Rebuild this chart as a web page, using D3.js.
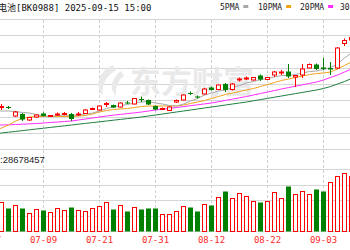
<!DOCTYPE html>
<html>
<head>
<meta charset="utf-8">
<script src="https://cdn.jsdelivr.net/npm/d3@7"></script>
<style>
body { margin: 0; background: #fff; overflow: hidden; }
svg { display: block; }
</style>
</head>
<body>
<svg id="chart" width="350" height="250"></svg>
<script>
// trading days shown (first two are just off the left edge)
const dates = ["06-27","06-30","07-01","07-02","07-03","07-04","07-07","07-08","07-09","07-10","07-11","07-14","07-15","07-16","07-17","07-18","07-21","07-22","07-23","07-24","07-25","07-28","07-29","07-30","07-31","08-01","08-04","08-05","08-06","08-07","08-08","08-11","08-12","08-13","08-14","08-15","08-18","08-19","08-20","08-21","08-22","08-25","08-26","08-27","08-28","08-29","09-01","09-02","09-03","09-04","09-05","09-08","09-09"];
const tickDates = ["06-27","07-09","07-21","07-31","08-12","08-22","09-03"];

const open  = [1094,1095,1092.5,1093,1084,1086,1080,1083,1086.5,1083.5,1085,1085.5,1086,1085,1086.5,1090.5,1090,1095.5,1095,1093,1097.5,1096,1101,1100,1094,1090.5,1089.5,1098,1100,1107,1103.5,1106,1112.5,1110.5,1116,1110.5,1120,1121,1120,1124.5,1120.5,1125,1127,1128.5,1123,1125,1132,1135.5,1132.5,1132,1132,1156.5,1160];
const high  = [1096,1097,1096,1094,1089,1087,1083,1085.5,1087.5,1085,1087.5,1088,1087,1088,1091,1092.5,1094.5,1098,1095.5,1097.5,1099,1102,1103.5,1100.5,1094.5,1092.5,1093.5,1100.5,1105.5,1108.5,1104.5,1112,1113.5,1115.5,1117,1117,1122.5,1123.5,1123,1125.5,1123,1129,1130,1136,1125,1136,1136.5,1136.5,1142,1138,1153,1161.5,1164];
const low   = [1092,1091,1090,1091,1083,1079,1079,1082,1083.5,1083,1084,1084.5,1079,1084,1086,1090,1089.5,1093,1092,1092.5,1096,1095.5,1098,1095,1090,1090,1089,1097,1099.5,1105,1101.5,1105.5,1109.5,1110,1108,1109.5,1118.5,1120,1119.5,1119,1120,1123,1125,1122,1113,1122,1131.5,1130,1130,1125,1131,1154,1158];
const close = [1095,1093,1093.5,1092.5,1088,1080.5,1082.5,1085,1084,1084.5,1086,1086.5,1081,1086,1090,1091.5,1094,1096.5,1092.5,1097,1097,1101.5,1100.5,1095.5,1090.5,1091.5,1093,1099.5,1105,1106.5,1103,1111,1110,1115,1110,1116,1121,1122,1122.5,1120.5,1122.5,1128,1128,1123.5,1124.5,1131,1135.5,1131,1131,1130.5,1152,1159.5,1162.5];
// volume, millions
const volume = [13,14,14.7,11.4,12.9,11.4,9.2,10.9,10.5,9.7,11.4,10.5,11.9,10.5,10,11.4,12.5,14.5,10.9,12.8,10.2,11.9,10.9,11.4,11.4,8.4,8.4,10,12.3,11.8,10,13.7,13.2,17.2,20,16.4,18.9,17.5,15.2,14.5,14.9,19.4,16.4,22.7,18.5,20.2,18.5,20.9,20,24.4,27.7,28.9,27.5];
const volRiseDays = ["09-04"]; // days whose volume bar is drawn red though the candle fell

const ma5  = [1089,1089,1089,1089,1088.5,1087.5,1087,1085.5,1084,1083.5,1084.5,1085,1084.5,1085,1086,1087,1089,1091.5,1093,1094.5,1095.5,1097,1098,1098.5,1097,1096,1094.5,1094,1096,1099,1101.5,1105,1107,1109,1110,1112.5,1114.5,1117,1118.5,1120.5,1121.5,1123,1124.5,1124.5,1125.5,1127,1128.5,1129,1130.5,1132.5,1136,1142,1147];
const ma10 = [1066,1069,1072,1075,1079,1081.5,1083,1083.5,1083.5,1083.5,1083.5,1083.5,1083.5,1084,1084.5,1086,1088,1089.5,1090.5,1091,1091.5,1092.5,1093.5,1094,1094,1094,1094,1094,1095,1096.5,1098,1099.5,1101.5,1103.5,1105.5,1107,1108.5,1110,1111.5,1113.5,1115.5,1117.5,1119.5,1121,1122.5,1124,1125.5,1126.5,1127,1128,1131,1134.5,1138];
const ma20 = [1074.5,1074.8,1075,1075.2,1075.5,1075.8,1076.2,1076.5,1077,1077.5,1078,1078.5,1079,1080,1081,1082,1083,1084,1084.8,1085.6,1086.4,1087.2,1088,1089,1090,1090.8,1091.6,1092.5,1093.4,1094.3,1095.2,1096.1,1097,1098.3,1099.6,1100.9,1102.2,1103.5,1105,1106.5,1108,1109.5,1111,1112.4,1113.8,1115.2,1116.6,1118,1120,1122.5,1125,1128,1131];
const ma30 = [1065.5,1066.2,1067,1067.8,1068.6,1069.4,1070.2,1071,1071.8,1072.6,1073.4,1074.2,1075,1075.8,1076.6,1077.4,1078.2,1079,1079.8,1080.6,1081.4,1082.2,1083,1084,1085,1086,1087,1088,1089,1090,1091,1092,1093,1094,1095,1096,1097,1098,1099.2,1100.4,1101.6,1102.8,1104,1105.2,1106.4,1107.6,1108.8,1110,1111.5,1113.5,1116,1118.5,1121.5];

const maLabels = ["5PMA", "10PMA", "20PMA", "30PMA"];
const title = "电池[BK0988] 2025-09-15 15:00";
const volText = ":28678457";

const svg = d3.select("#chart");
const mono = "'DejaVu Sans Mono', 'Noto Sans CJK SC', monospace";
const colUp = "#ff0000", colDown = "#008000";
const maColors = ["#a8a8a8", "#f2a31a", "#ff2cff", "#1f7f3f"];

const mainTop = 19, mainBot = 149, volTop = 169, volBot = 231;

const x = d3.scaleBand().domain(dates).range([-16.5, -16.5 + 7 * dates.length]);
const cx = d => Math.round(x(d) + x.bandwidth() / 2);
const y = d3.scaleLinear().domain([1051, 1181]).range([mainBot, mainTop]);
const yv = d3.scaleLinear().domain([0, 31]).range([volBot, volTop]);

const rows = dates.map((d, i) => ({
  date: d, o: open[i], h: high[i], l: low[i], c: close[i], v: volume[i],
  up: close[i] >= open[i]
}));

// header
svg.append("text").attr("x", -2).attr("y", 11)
  .style("font", "9px " + mono).attr("fill", "#111").text(title);

const legX = [220, 258, 300, 340];
maLabels.forEach((lab, k) => {
  const t = svg.append("text").attr("x", legX[k]).attr("y", 10)
    .style("font", "8px " + mono).attr("fill", "#222").text(lab);
  const w = t.node().getComputedTextLength();
  svg.append("rect").attr("x", legX[k] + w + 4).attr("y", 5).attr("width", 5).attr("height", 3)
    .attr("fill", maColors[k]);
});

// grid
const grid = svg.append("g").attr("stroke", "#d6d6d6").attr("stroke-width", 1);
d3.range(9).forEach(k => {
  const yy = Math.round(mainTop + k * (mainBot - mainTop) / 8) + 0.5;
  grid.append("line").attr("x1", 0).attr("x2", 350).attr("y1", yy).attr("y2", yy);
});
d3.range(5).forEach(k => {
  const yy = Math.round(volTop + k * (volBot - volTop) / 4) + 0.5;
  grid.append("line").attr("x1", 0).attr("x2", 350).attr("y1", yy).attr("y2", yy);
});
tickDates.forEach(d => {
  const xx = cx(d) + 0.5;
  grid.append("line").attr("x1", xx).attr("x2", xx).attr("y1", mainTop + 1).attr("y2", volBot)
    .attr("stroke-dasharray", "3,2").attr("stroke", "#cfcfcf");
});

// watermark
const wm = svg.append("g").attr("fill", "#e9e9e9");
wm.append("path").attr("d", "M113,65 C99,71 94,85 103,96 C101,86 105,77 116,70 Z");
wm.append("path").attr("d", "M121,71 C111,78 109,89 116,96 C115,88 118,80 124,76 Z");
wm.append("text").attr("x", 130).attr("y", 93)
  .style("font", "bold 31px 'Noto Sans CJK SC'").text("东方财富");

// moving averages
const maLine = d3.line().x(d => cx(d.date) + 0.5).y(d => y(d.v));
[ma30, ma20, ma10, ma5].forEach((arr, j) => {
  const k = 3 - j;
  svg.append("path")
    .datum(dates.map((d, i) => ({ date: d, v: arr[i] })))
    .attr("fill", "none").attr("stroke", maColors[k]).attr("stroke-width", 1)
    .attr("d", maLine);
});

// candles
const candles = svg.append("g").selectAll("g").data(rows).join("g");
candles.append("line")
  .attr("x1", d => cx(d.date) + 0.5).attr("x2", d => cx(d.date) + 0.5)
  .attr("y1", d => y(d.h)).attr("y2", d => y(d.l))
  .attr("stroke", d => d.up ? colUp : colDown);
candles.append("rect")
  .attr("x", d => d.up ? cx(d.date) - 1.5 : cx(d.date) - 2)
  .attr("width", d => d.up ? 4 : 5)
  .attr("y", d => y(Math.max(d.o, d.c)))
  .attr("height", d => Math.max(1, Math.abs(y(d.o) - y(d.c))))
  .attr("fill", d => d.up ? "#fff" : colDown)
  .attr("stroke", d => d.up ? colUp : "none");

// volume
svg.append("text").attr("x", 0).attr("y", 163)
  .style("font", "9.5px 'Liberation Sans', Arial, sans-serif").attr("fill", "#222").text(volText);

svg.append("g").selectAll("rect").data(rows).join("rect")
  .each(function (d) { d.vup = d.up || volRiseDays.includes(d.date); })
  .attr("x", d => d.vup ? cx(d.date) - 1.5 : cx(d.date) - 2)
  .attr("width", d => d.vup ? 4 : 5)
  .attr("y", d => Math.round(yv(d.v)) + 0.5)
  .attr("height", d => volBot - Math.round(yv(d.v)))
  .attr("fill", d => d.vup ? "#fff" : colDown)
  .attr("stroke", d => d.vup ? colUp : "none");

// date labels
svg.append("g").selectAll("text").data(tickDates).join("text")
  .attr("x", d => cx(d) + 0.5).attr("y", 243).attr("text-anchor", "middle")
  .style("font", "9px " + mono).attr("fill", "#ff2a2a").text(d => d);
</script>
</body>
</html>
